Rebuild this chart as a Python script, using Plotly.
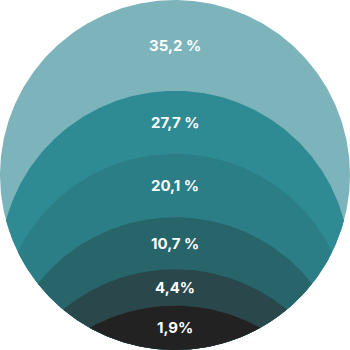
import numpy as np
import plotly.graph_objects as go

# ---- data ----
labels = ["35,2 %", "27,7 %", "20,1 %", "10,7 %", "4,4%", "1,9%"]
values = [35.2, 27.7, 20.1, 10.7, 4.4, 1.9]
colors = ["#7db4bb", "#2e8a93", "#2b7e86", "#27656a", "#2a484b", "#222222"]

# ---- geometry ----
R = 175.0            # container circle radius (data units)
D = 2 * R
SCALE = 0.92         # height scale of inner lenses (sqrt of cumulative share)

total = sum(values)
cum = [sum(values[i:]) / total for i in range(len(values))]   # share at/below each band's top

# height of each band's top above the circle bottom
heights = [D] + [SCALE * np.sqrt(c) * D for c in cum[1:]]
shifts = [D - h for h in heights]   # downward shift of the boundary circle


def lens(d, n=240):
    """Region of container circle lying inside a copy shifted down by d."""
    if d <= 0:
        t = np.linspace(0, 2 * np.pi, 2 * n)
        return R * np.cos(t), R * np.sin(t)
    a = np.arcsin(d / (2 * R))
    phi = np.linspace(a, np.pi - a, n)             # upper arc (shifted circle)
    xu, yu = R * np.cos(phi), -d + R * np.sin(phi)
    psi = np.linspace(np.pi + a, 2 * np.pi - a, n)  # lower arc (container)
    xl, yl = R * np.cos(psi), R * np.sin(psi)
    return np.concatenate([xu, xl, xu[:1]]), np.concatenate([yu, yl, yu[:1]])


fig = go.Figure()
for d, col in zip(shifts, colors):
    x, y = lens(d)
    fig.add_trace(go.Scatter(x=x, y=y, mode="lines", fill="toself",
                             fillcolor=col, line=dict(width=0),
                             hoverinfo="skip", showlegend=False))

# label positions: middle of each band along the vertical axis
tops = [R - d for d in shifts]
bottoms = tops[1:] + [-R]
for lab, t, b in zip(labels, tops, bottoms):
    fig.add_annotation(x=0, y=(t + b) / 2, text=lab, showarrow=False,
                       font=dict(family="Inter, Lato, sans-serif", size=15,
                                 color="white", weight="bold"),
                       xanchor="center", yanchor="middle")

fig.update_xaxes(range=[-R, R], visible=False, fixedrange=True)
fig.update_yaxes(range=[-R, R], visible=False, fixedrange=True)
fig.update_layout(width=350, height=350, margin=dict(l=0, r=0, t=0, b=0),
                  paper_bgcolor="white", plot_bgcolor="white")

fig.write_html("out.html")
